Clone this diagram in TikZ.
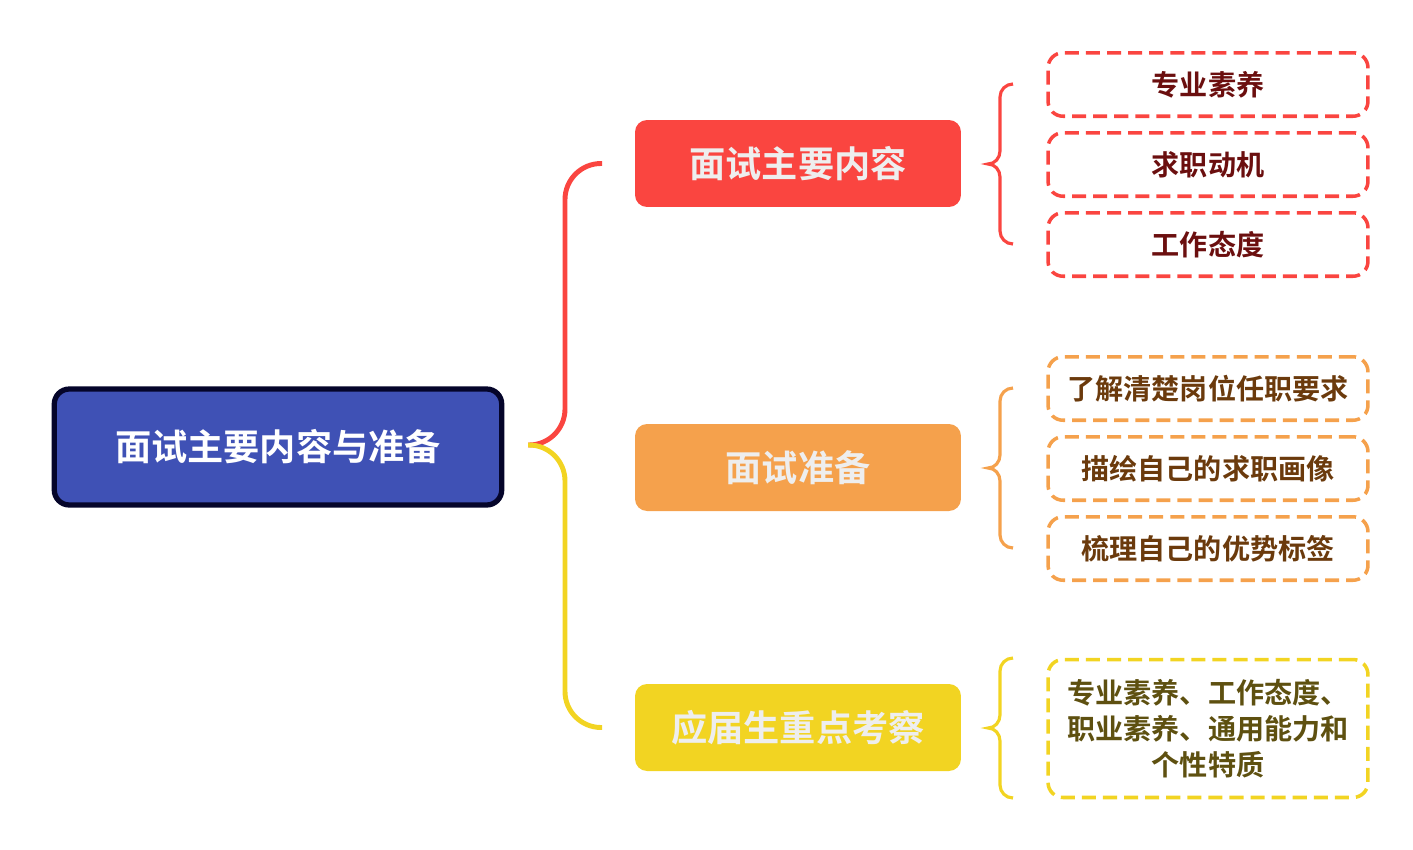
\documentclass[tikz,border=0pt]{standalone}
\usepackage{fontspec}
\usepackage{tikz}
\usetikzlibrary{positioning}
\newfontfamily\cjk{Noto Sans CJK SC}[BoldFont={Noto Sans CJK SC Bold}]
\definecolor{rootfill}{HTML}{3F51B5}
\definecolor{rootline}{HTML}{05052A}
\definecolor{redc}{HTML}{FA4540}
\definecolor{orangec}{HTML}{F5A14C}
\definecolor{yellowc}{HTML}{F2D422}
\definecolor{redtxt}{HTML}{6B0F0F}
\definecolor{orangetxt}{HTML}{6B3A0C}
\definecolor{yellowtxt}{HTML}{5E5010}
\definecolor{lighttxt}{HTML}{EEEEEE}

\begin{document}
\begin{tikzpicture}[x=0.02cm,y=-0.02cm]
  \tikzset{rootbox/.style={draw=rootline,fill=rootfill,line width=3pt,rounded corners=0.3cm,
      minimum width=8.95cm,minimum height=2.32cm,text=white,font=\cjk\bfseries\fontsize{20.6}{24}\selectfont},
    branch/.style={rounded corners=0.24cm,minimum width=6.52cm,minimum height=1.74cm,
      text=lighttxt,font=\cjk\bfseries\fontsize{20.6}{24}\selectfont},
    leaf/.style={draw=#1,dash pattern=on 8pt off 4pt,line width=2pt,rounded corners=0.3cm,
      minimum width=6.4cm,minimum height=1.27cm,font=\cjk\bfseries\fontsize{16}{20.4}\selectfont},
    link/.style={line width=2.8pt,rounded corners=0.72cm},
    curly/.style={line width=1.8pt}}
  \useasboundingbox (0,0) rectangle (1413,849);
  % root
  \node[rootbox](root) at (278,447) {面试主要内容与准备};
  % branches
  \node[branch,fill=redc](content) at (798,163.5) {面试主要内容};
  \node[branch,fill=orangec](prep) at (798,467.5) {面试准备};
  \node[branch,fill=yellowc](focus) at (798,727.5) {应届生重点考察};
  % leaves
  \node[leaf=redc,text=redtxt](c1) at (1208,84.5) {专业素养};
  \node[leaf=redc,text=redtxt](c2) at (1208,164.5) {求职动机};
  \node[leaf=redc,text=redtxt](c3) at (1208,244.5) {工作态度};
  \node[leaf=orangec,text=orangetxt](p1) at (1208,388.5) {了解清楚岗位任职要求};
  \node[leaf=orangec,text=orangetxt](p2) at (1208,468.5) {描绘自己的求职画像};
  \node[leaf=orangec,text=orangetxt](p3) at (1208,548.5) {梳理自己的优势标签};
  \node[leaf=yellowc,text=yellowtxt,minimum height=2.76cm,align=center](f1) at (1208,728.5)
    {专业素养、工作态度、\\职业素养、通用能力和\\个性特质};
  % links from root
  \coordinate (j) at (528,445);
  \coordinate (jc) at (602,163.5);
  \coordinate (jf) at (602,727.5);
  \draw[link,draw=redc] (j) -- (565,445) -- (565,163.5) -- (jc);
  \draw[link,draw=yellowc] (j) -- (565,445) -- (565,727.5) -- (jf);
  % braces
  \draw[curly,draw=redc] (1013,84) to[out=180,in=90] (1000,97) -- (1000,151)
    to[out=-90,in=0] (988,164) to[out=0,in=90] (1000,177) -- (1000,231) to[out=-90,in=180] (1013,244);
  \draw[curly,draw=orangec] (1013,388) to[out=180,in=90] (1000,401) -- (1000,455)
    to[out=-90,in=0] (988,468) to[out=0,in=90] (1000,481) -- (1000,535) to[out=-90,in=180] (1013,548);
  \draw[curly,draw=yellowc] (1013,658) to[out=180,in=90] (1000,671) -- (1000,715)
    to[out=-90,in=0] (988,728) to[out=0,in=90] (1000,741) -- (1000,785) to[out=-90,in=180] (1013,798);
\end{tikzpicture}
\end{document}
